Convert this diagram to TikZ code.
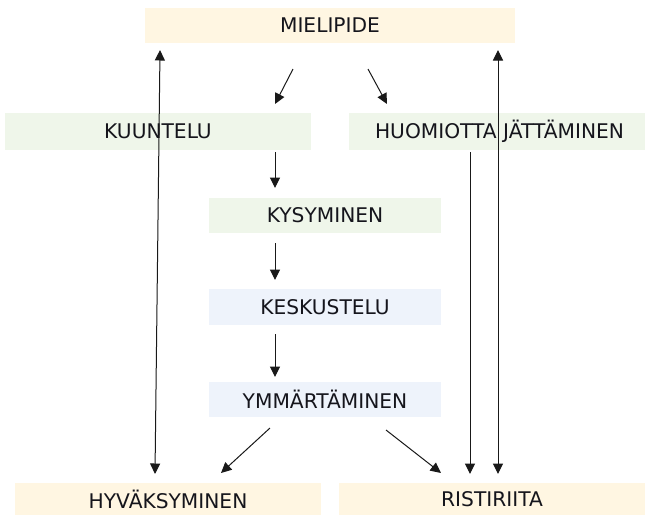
\documentclass[tikz,border=0pt]{standalone}
\usepackage{fontspec}
\setmainfont{DejaVu Sans}
\usetikzlibrary{arrows.meta,calc}
\definecolor{beige}{HTML}{FFF6E2}
\definecolor{lgreen}{HTML}{EFF6EA}
\definecolor{lblue}{HTML}{EEF3FB}
\definecolor{txt}{HTML}{15151C}
\begin{document}
\begin{tikzpicture}[x=1pt,y=-1pt,
  box/.style={rectangle,inner sep=0pt,outer sep=0pt,text=txt,
    font=\fontsize{20.2}{23}\selectfont},
  arr/.style={line width=1pt,draw=black!90,-{Triangle[length=10.5pt,width=10pt]}},
  darr/.style={line width=1pt,draw=black!90,{Triangle[length=10.5pt,width=10pt]}-{Triangle[length=10.5pt,width=10pt]}}]
\useasboundingbox (0,0) rectangle (645,515);
\fill[white] (0,0) rectangle (645,515);
\node[box,fill=beige,minimum width=370pt,minimum height=35pt] (mie) at (330,25.5) {MIELIPIDE};
\node[box,fill=lgreen,minimum width=306pt,minimum height=37pt] (kuu) at (158,131.5) {KUUNTELU};
\node[box,fill=lgreen,minimum width=296pt,minimum height=37pt] (huo) at (497,131.5) {\hspace{5pt}HUOMIOTTA JÄTTÄMINEN};
\node[box,fill=lgreen,minimum width=232pt,minimum height=35pt] (kys) at (325,215.5) {KYSYMINEN};
\node[box,fill=lblue,minimum width=232pt,minimum height=36pt] (kes) at (325,307) {KESKUSTELU};
\node[box,fill=lblue,minimum width=232pt,minimum height=35pt] (ymm) at (325,399.5) {YMMÄRTÄMINEN};
\node[box,fill=beige,minimum width=306pt,minimum height=32pt] (hyv) at (168,499) {HYVÄKSYMINEN};
\node[box,fill=beige,minimum width=306pt,minimum height=32pt] (ris) at (492,499) {RISTIRIITA};
% arrows
\draw[arr] ($(mie.south)+(-37,26)$) -- ($(kuu.north)+(117,-9)$);
\draw[arr] ($(mie.south)+(38,26)$) -- ($(huo.north)+(-110,-9)$);
\draw[arr] ($(kuu.south)+(117,2)$) -- ($(kys.north)+(-50,-10)$);
\draw[arr] ($(kys.south)+(-50,10)$) -- ($(kes.north)+(-50,-9)$);
\draw[arr] ($(kes.south)+(-50,9)$) -- ($(ymm.north)+(-50,-5)$);
\draw[arr] ($(ymm.south)+(-55,11)$) -- ($(hyv.north)+(53,-10)$);
\draw[arr] ($(ymm.south)+(61,13)$) -- ($(ris.north)+(-51,-10)$);
\draw[darr] ($(mie.south)+(-170,7)$) -- ($(hyv.north)+(-13,-9)$);
\draw[darr] ($(mie.south)+(168,7)$) -- ($(ris.north)+(6,-9)$);
\draw[arr] ($(huo.south)+(-27,2)$) -- ($(ris.north)+(-22,-9)$);
\end{tikzpicture}
\end{document}
